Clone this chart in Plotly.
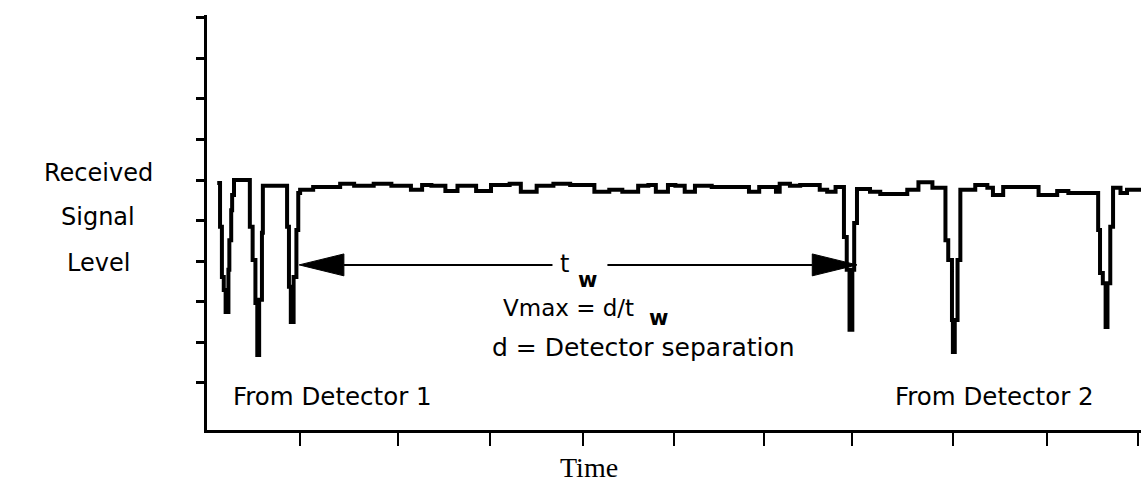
import plotly.graph_objects as go

# ---- data (time in arbitrary units, signal level in arbitrary units) ----
sig_t = [0.11, 0.14, 0.16, 0.18, 0.20, 0.23, 0.24, 0.26, 0.27, 0.29,
         0.46, 0.49, 0.52, 0.54, 0.56, 0.59, 0.60,
         0.86, 0.88, 0.90, 0.93, 0.96, 0.98,
         1.00, 1.14, 1.43, 1.58, 1.79, 1.98, 2.19, 2.31, 2.41, 2.56, 2.69, 2.89,
         3.05, 3.25, 3.37, 3.54, 3.72, 3.90, 4.16, 4.32, 4.46, 4.63, 4.74, 4.82,
         4.95, 5.03, 5.13, 5.24, 5.42, 5.82, 5.93, 6.11, 6.15, 6.26, 6.37, 6.58,
         6.66, 6.75,
         6.84, 6.87, 6.90, 6.93, 6.95, 6.98,
         7.12, 7.23, 7.52, 7.64, 7.79,
         7.93, 7.96, 8.00, 8.01, 8.03, 8.06, 8.09,
         8.25, 8.38, 8.44, 8.55, 8.93, 9.13, 9.25,
         9.57, 9.59, 9.62, 9.65, 9.67, 9.70, 9.73,
         9.81, 9.88, 10.03]
sig_v = [5.93, 4.85, 3.61, 3.29, 2.75, 3.79, 4.52, 5.26, 5.63, 6.00,
         4.85, 4.03, 2.97, 1.69, 3.05, 4.70, 5.86,
         4.85, 3.37, 2.50, 3.61, 4.77, 5.68,
         5.76, 5.83, 5.91, 5.86, 5.91, 5.86, 5.76, 5.88, 5.86, 5.73, 5.86, 5.73,
         5.88, 5.91, 5.71, 5.86, 5.91, 5.88, 5.71, 5.76, 5.71, 5.86, 5.88, 5.71,
         5.88, 5.86, 5.71, 5.86, 5.83, 5.71, 5.83, 5.71, 5.91, 5.86, 5.88, 5.76,
         5.71, 5.83,
         4.60, 3.79, 2.31, 3.79, 4.94, 5.78,
         5.71, 5.66, 5.76, 5.95, 5.81,
         4.52, 4.03, 2.55, 1.76, 2.55, 4.03, 5.76,
         5.88, 5.81, 5.63, 5.83, 5.63, 5.73, 5.68,
         4.77, 3.71, 3.46, 2.38, 3.46, 4.85, 5.81,
         5.68, 5.76, 5.76]

x_ticks = [1.0, 2.05, 3.04, 4.04, 5.02, 5.98, 6.93, 8.01, 9.02, 10.0]
y_ticks = [1, 2, 3, 4, 5, 6, 7, 8, 9, 10]

# t_w measurement arrow (between detector 1 last dip and detector 2 first dip)
arrow_y = 3.91
arrow_left_seg = [1.47, 3.71]
arrow_right_seg = [4.30, 6.50]
head_left_t = [0.99, 1.47, 1.47, 0.99]
head_left_v = [3.91, 4.18, 3.64, 3.91]
head_right_t = [6.98, 6.50, 6.50, 6.98]
head_right_v = [3.91, 4.18, 3.64, 3.91]

FONT = "DejaVu Sans"

fig = go.Figure()
fig.add_trace(go.Scatter(x=sig_t, y=sig_v, mode="lines",
                         line=dict(color="black", width=4, shape="hv"),
                         hoverinfo="skip"))
for seg in (arrow_left_seg, arrow_right_seg):
    fig.add_trace(go.Scatter(x=seg, y=[arrow_y, arrow_y], mode="lines",
                             line=dict(color="black", width=2), hoverinfo="skip"))
for ht, hv in ((head_left_t, head_left_v), (head_right_t, head_right_v)):
    fig.add_trace(go.Scatter(x=ht, y=hv, mode="lines", fill="toself",
                             fillcolor="black", line=dict(color="black", width=1),
                             hoverinfo="skip"))

# plot area spans page x 207..1141, y 15..430
PL, PR, PT, PB = 207.0, 1141.0, 15.0, 430.0

def ann(text, px, py, size=24, family=FONT):
    fig.add_annotation(x=(px - PL) / (PR - PL), y=(PB - py) / (PB - PT),
                       xref="paper", yref="paper", text=text, showarrow=False,
                       font=dict(family=family, size=size, color="black"),
                       xanchor="center", yanchor="middle")

ann("Received", 98, 173)
ann("Signal", 98, 217)
ann("Level", 98, 263)
ann("t", 564, 264)
ann("<b>w</b>", 587, 280, size=21)
ann("Vmax = d/t", 568, 308, size=23)
ann("<b>w</b>", 658, 318, size=21)
ann("d = Detector separation", 643, 347, size=25)
ann("From Detector 1", 332, 396, size=24.5)
ann("From Detector 2", 994, 396, size=24.5)
ann("Time", 589, 467, size=28, family="Liberation Serif")

fig.update_layout(
    width=1141, height=487,
    margin=dict(l=207, r=0, t=15, b=57, pad=0),
    plot_bgcolor="white", paper_bgcolor="white",
    showlegend=False,
)
fig.update_xaxes(range=[0, 10.03], showline=True, linewidth=3, linecolor="black",
                 ticks="outside", ticklen=13, tickwidth=2, tickcolor="black",
                 tickvals=x_ticks, showticklabels=False, showgrid=False, zeroline=False)
fig.update_yaxes(range=[-0.16, 10.07], showline=True, linewidth=3, linecolor="black",
                 ticks="outside", ticklen=8, tickwidth=3, tickcolor="black",
                 tickvals=y_ticks, showticklabels=False, showgrid=False, zeroline=False)

fig.write_html("out.html",
               config={"displayModeBar": False},
               post_script="document.body.style.margin='0';"
                           "document.body.style.overflow='hidden';")
